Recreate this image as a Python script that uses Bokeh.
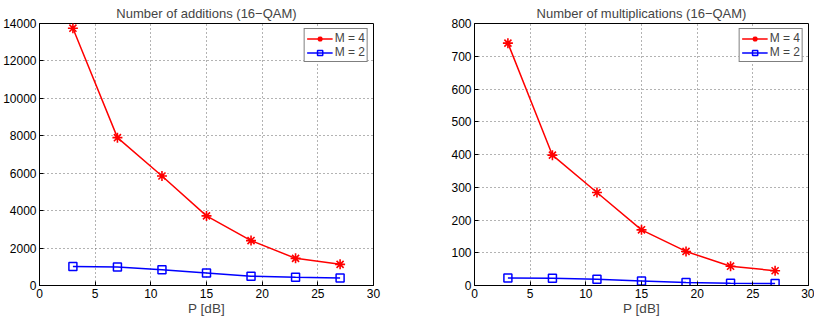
from bokeh.plotting import figure
from bokeh.layouts import row
from bokeh.models import FixedTicker, Legend, LegendItem, Range1d
from bokeh.embed import file_html
from bokeh.resources import INLINE

P = [3, 7, 11, 15, 19, 23, 27]
add_m4 = [13750, 7900, 5850, 3720, 2400, 1450, 1130]
add_m2 = [1020, 990, 840, 670, 500, 440, 400]
mul_m4 = [740, 398, 284, 170, 104, 59, 45]
mul_m2 = [23, 22, 19, 14, 9, 7, 6]
x_ticks = [0, 5, 10, 15, 20, 25, 30]
add_ticks = [0, 2000, 4000, 6000, 8000, 10000, 12000, 14000]
mul_ticks = [0, 100, 200, 300, 400, 500, 600, 700, 800]

FONT = "Liberation Sans"


def style_axis(ax, ticks):
    ax.ticker = FixedTicker(ticks=ticks)
    ax.major_tick_in = 4
    ax.major_tick_out = 0
    ax.minor_tick_in = 0
    ax.minor_tick_out = 0
    ax.axis_line_color = "black"
    ax.major_tick_line_color = "black"
    ax.major_label_text_font = FONT
    ax.major_label_text_color = "black"
    ax.major_label_text_font_size = "12px"
    ax.major_label_standoff = 3


def make(title, y4, y2, yticks, ymax, bl, br):
    p = figure(width=407, height=321, output_backend="svg", toolbar_location=None,
               x_range=Range1d(0, 30), y_range=Range1d(0, ymax),
               min_border_left=bl, min_border_right=br, min_border_top=22, min_border_bottom=36)
    p.title.text = title
    p.title.align = "center"
    p.title.text_font = FONT
    p.title.text_font_size = "13px"
    p.title.text_font_style = "normal"
    p.title.offset = 0
    p.title.standoff = 6
    p.outline_line_color = "black"
    p.outline_line_alpha = 1
    p.outline_line_width = 1
    xax = p.below[0]
    yax = p.left[0]
    style_axis(xax, x_ticks)
    style_axis(yax, yticks)
    xax.axis_label = "P [dB]"
    xax.axis_label_text_font = FONT
    xax.axis_label_text_font_size = "13.5px"
    xax.axis_label_text_font_style = "normal"
    xax.axis_label_standoff = 0
    for g in (p.xgrid[0], p.ygrid[0]):
        g.grid_line_color = "#666666"
        g.grid_line_dash = "1 3"
        g.grid_line_width = 1
    p.xgrid[0].ticker = FixedTicker(ticks=x_ticks)
    p.ygrid[0].ticker = FixedTicker(ticks=yticks)

    l1 = p.line(P, y4, line_color="red", line_width=1.5)
    s1 = p.scatter(P, y4, marker="asterisk", size=10, line_color="red", line_width=1.6)
    l2 = p.line(P, y2, line_color="blue", line_width=1.5)
    s2 = p.scatter(P, y2, marker="square", size=8, line_color="blue", fill_color=None, line_width=1.5)
    leg = Legend(items=[LegendItem(label="M = 4", renderers=[l1, s1]),
                        LegendItem(label="M = 2", renderers=[l2, s2])],
                 location="top_right", border_line_color="black", border_line_width=1,
                 background_fill_color="white", background_fill_alpha=1,
                 label_text_font=FONT, label_text_font_size="12px",
                 glyph_width=26, glyph_height=13, spacing=0, padding=2, margin=5,
                 label_height=13, label_standoff=2)
    p.add_layout(leg)
    return p


p1 = make("Number of additions (16\u2212QAM)", add_m4, add_m2, add_ticks, 14000, 39, 34)
p2 = make("Number of multiplications (16\u2212QAM)", mul_m4, mul_m2, mul_ticks, 800, 67, 6)
lay = row(p1, p2, spacing=0)
open("out.html", "w").write(file_html(lay, INLINE))
